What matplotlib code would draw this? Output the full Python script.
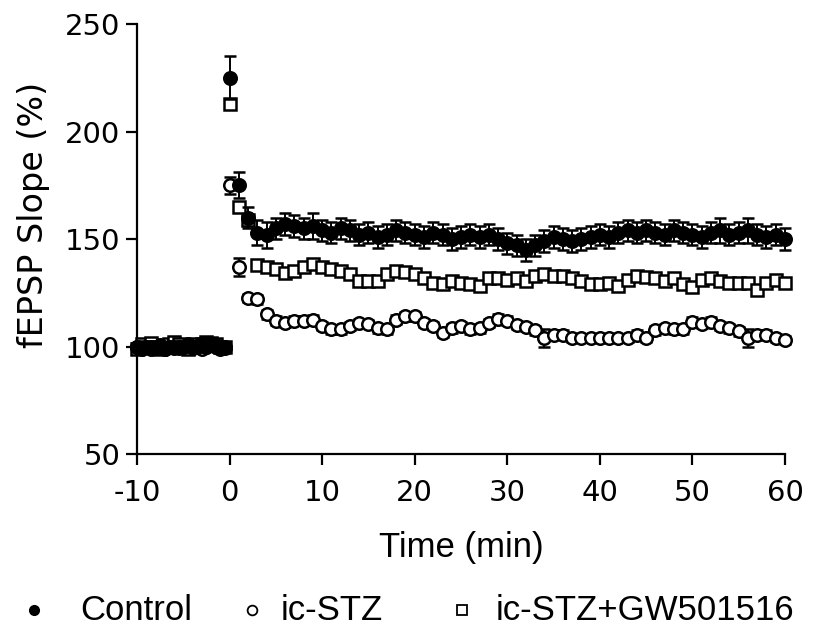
import numpy as np
import matplotlib
matplotlib.use("Agg")
import matplotlib.pyplot as plt
from matplotlib.lines import Line2D

# time points (min): baseline every 0.5 min, after stimulation every 1 min
time = np.concatenate([np.arange(-10, 0, 0.5), np.arange(0, 61)])

# Control (filled circles)
control = [100, 99.5, 100, 99, 100, 100.5, 99, 100, 99.5, 100,
           100, 100.5, 99.5, 100, 101, 100, 101, 100.5, 100, 100,
           225, 175, 160, 153, 152, 155, 157, 156, 155, 156,
           154, 153, 155, 154, 152, 153, 151, 152, 154, 153,
           152, 151, 153, 152, 150, 151, 152, 151, 152, 150,
           148, 147, 145, 147, 149, 151, 150, 149, 150, 151,
           152, 151, 153, 154, 153, 154, 153, 152, 154, 153,
           152, 151, 153, 154, 152, 153, 154, 152, 151, 152,
           150]
control_err = [1.5] * 20 + [
               10, 6, 5, 6, 6, 5, 5, 5, 5, 6,
               5, 5, 5, 5, 5, 5, 5, 5, 5, 5,
               5, 5, 5, 5, 5, 5, 5, 5, 5, 5,
               5, 5, 5, 5, 5, 5, 5, 5, 5, 5,
               5, 5, 5, 5, 5, 5, 5, 5, 5, 5,
               5, 5, 5, 6, 5, 5, 6, 5, 5, 5,
               5]

# ic-STZ (open circles)
stz = [100, 99, 100, 100, 99.5, 100, 99, 100, 100, 99.5,
       100, 101, 100, 100, 99, 100, 100.5, 100, 99, 99.5,
       175, 137, 122.5, 122, 115, 112, 111, 112, 112, 112.5,
       109.5, 108, 108, 109.5, 111, 110.5, 108.5, 108, 112.5, 114,
       114, 111, 109.5, 106.5, 108.5, 109.5, 108, 108.5, 111, 113,
       112, 110, 109, 107.5, 104, 105.5, 105.5, 104, 104, 104,
       104, 104, 104, 104, 105.5, 104, 107.5, 108.5, 108, 108,
       111.5, 110.5, 111.5, 109.5, 108.5, 107, 104, 105.5, 105.5, 104,
       103]
stz_err = [1.5] * 20 + [4, 4, 2, 2, 2, 2, 2, 2, 2, 2,
                        2, 2, 2, 2, 2, 2, 2, 2, 2, 2,
                        2, 2, 2, 2, 2, 2, 2, 2, 2, 2,
                        2, 2, 2, 2, 4, 2, 2, 2, 2, 2,
                        2, 2, 2, 2, 2, 2, 2, 2, 2, 2,
                        2, 2, 2, 2, 2, 2, 4, 2, 2, 2,
                        2]

# ic-STZ+GW501516 (open squares)
gw = [99, 101, 100, 101.5, 100, 99, 100, 101, 102, 101,
      100, 99, 101, 100, 101, 102, 101.5, 101, 100, 100,
      213, 165, 159, 138, 137, 136, 134, 135, 137, 138.5,
      137, 136, 135, 133.5, 130.5, 130.5, 130.5, 133.5, 135, 134.5,
      133.5, 132, 129.5, 129, 130.5, 129.5, 129, 128, 132, 132,
      131, 132, 130.5, 133, 133.5, 133, 133, 132, 130.5, 129,
      129, 129.5, 128, 131, 133, 132.5, 132, 130.5, 132, 129,
      127.5, 131, 132, 130.5, 129.5, 129.5, 129.5, 126.5, 129.5, 131,
      129.5]
gw_err = [1.5] * 81

x_ticks = [-10, 0, 10, 20, 30, 40, 50, 60]
y_ticks = [50, 100, 150, 200, 250]
legend_labels = ['Control', 'ic-STZ', 'ic-STZ+GW501516']

fig = plt.figure(figsize=(8.19, 6.34), dpi=100)
ax = fig.add_axes([0.1673, 0.2839, 0.7912, 0.6782])

style = dict(ms=9, mew=1.8, ecolor='black', elinewidth=1.4, capsize=4.5,
             capthick=1.4, clip_on=False)
ax.errorbar(time, gw, yerr=gw_err, fmt='s', mfc='white', mec='black',
            zorder=3, **style)
ax.errorbar(time, stz, yerr=stz_err, fmt='o', mfc='white', mec='black',
            zorder=4, **style)
ax.errorbar(time, control, yerr=control_err, fmt='o', mfc='black',
            mec='black', zorder=5, **style)

ax.set_xlim(-10, 60)
ax.set_ylim(50, 250)
ax.set_xticks(x_ticks)
ax.set_yticks(y_ticks)
ax.set_xticklabels(['-10', '0', '10', '20', '30', '40', '50', '60'])

for s in ['top', 'right']:
    ax.spines[s].set_visible(False)
for s in ['left', 'bottom']:
    ax.spines[s].set_linewidth(1.6)
ax.tick_params(direction='out', length=8, width=1.6, labelsize=21, pad=4)
ax.tick_params(axis='x', pad=10)
for lab in ax.get_xticklabels() + ax.get_yticklabels():
    lab.set_family('DejaVu Sans')

ax.set_xlabel('Time (min)', fontsize=25, family='Liberation Sans', labelpad=17)
ax.set_ylabel('fEPSP Slope (%)', fontsize=24, family='DejaVu Sans')
ax.yaxis.set_label_coords(-0.134, 0.555)

# legend drawn by hand below the axes
leg_marker_x = [34, 252, 462]
leg_text_x = [80, 281, 496]
leg_y = 610
markers = [dict(marker='o', mfc='black', mec='black'),
           dict(marker='o', mfc='white', mec='black', mew=1.3),
           dict(marker='s', mfc='white', mec='black', mew=1.3)]
W, H = 819, 634
for mx, tx, lab, mk in zip(leg_marker_x, leg_text_x, legend_labels, markers):
    fig.add_artist(Line2D([mx / W], [1 - leg_y / H], ls='none', ms=7,
                          transform=fig.transFigure, **mk))
    fig.text(tx / W, 1 - leg_y / H, lab, fontsize=25, family='Liberation Sans',
             ha='left', va='center')

fig.savefig('out.png', dpi=100)
